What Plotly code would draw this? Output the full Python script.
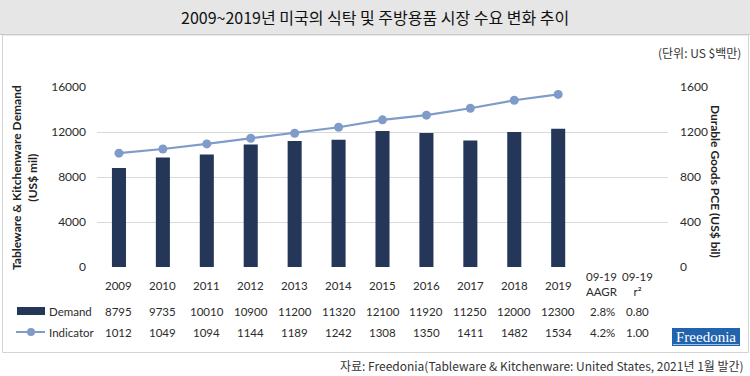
import plotly.graph_objects as go

years = [2009, 2010, 2011, 2012, 2013, 2014, 2015, 2016, 2017, 2018, 2019]
demand = [8795, 9735, 10010, 10900, 11200, 11320, 12100, 11920, 11250, 12000, 12300]
indicator = [1012, 1049, 1094, 1144, 1189, 1242, 1308, 1350, 1411, 1482, 1534]
stat_headers = ["09-19<br>AAGR", "09-19<br>r²"]
demand_stats = ["2.8%", "0.80"]
indicator_stats = ["4.2%", "1.00"]
left_ticks = [0, 4000, 8000, 12000, 16000]
right_ticks = [0, 400, 800, 1200, 1600]

title = "2009~2019년 미국의 식탁 및 주방용품 시장 수요 변화 추이"
unit = "(단위: US $백만)"
source = "자료: Freedonia(Tableware & Kitchenware: United States, 2021년 1월 발간)"

BAR = "#253759"
LINE = "#7f9bc9"
GRID = "#d9d9d9"
TXT = "#2b2b2b"
FONT = "Lato, sans-serif"
KFONT = "'Noto Sans CJK KR', sans-serif"
FS = 11.5

W, H = 750, 376
L, R = 97, 668
TOP, BOT = 87, 267


def px(x):
    return (x - L) / (R - L)


def py(y):
    return (BOT - y) / (BOT - TOP)


fig = go.Figure()
fig.add_trace(go.Bar(x=years, y=demand, marker=dict(color=BAR, line=dict(width=0)),
                     width=0.32, name="Demand", yaxis="y"))
fig.add_trace(go.Scatter(x=years, y=indicator, mode="lines+markers", name="Indicator",
                         line=dict(color=LINE, width=2.2),
                         marker=dict(color=LINE, size=9), yaxis="y2"))

stat_x = [years[-1] + 1.0, years[-1] + 1.8]

ann = []
for yr in years:
    ann.append(dict(x=yr, y=py(285), xref="x", yref="paper", text=str(yr), showarrow=False,
                    font=dict(family=FONT, size=FS, color=TXT), yanchor="middle"))
for sx, h in zip(stat_x, stat_headers):
    ann.append(dict(x=sx, y=py(284), xref="x", yref="paper", text=h, showarrow=False,
                    font=dict(family=FONT, size=FS, color=TXT), yanchor="middle"))
for yr, d, i in zip(years, demand, indicator):
    ann.append(dict(x=yr, y=py(311), xref="x", yref="paper", text=str(d), showarrow=False,
                    font=dict(family=FONT, size=FS, color=TXT), yanchor="middle"))
    ann.append(dict(x=yr, y=py(332), xref="x", yref="paper", text=str(i), showarrow=False,
                    font=dict(family=FONT, size=FS, color=TXT), yanchor="middle"))
for sx, d, i in zip(stat_x, demand_stats, indicator_stats):
    ann.append(dict(x=sx, y=py(311), xref="x", yref="paper", text=d, showarrow=False,
                    font=dict(family=FONT, size=FS, color=TXT), yanchor="middle"))
    ann.append(dict(x=sx, y=py(332), xref="x", yref="paper", text=i, showarrow=False,
                    font=dict(family=FONT, size=FS, color=TXT), yanchor="middle"))
ann.append(dict(x=px(47), y=py(311), xref="paper", yref="paper", text="Demand", showarrow=False,
                xanchor="left", yanchor="middle", font=dict(family=FONT, size=FS, color=TXT)))
ann.append(dict(x=px(47), y=py(332), xref="paper", yref="paper", text="Indicator", showarrow=False,
                xanchor="left", yanchor="middle", font=dict(family=FONT, size=FS, color=TXT)))
ann.append(dict(x=px(24), y=py(178), xref="paper", yref="paper",
                text="<b>Tableware & Kitchenware Demand<br>(US$ mil)</b>", showarrow=False,
                textangle=-90, font=dict(family=FONT, size=12, color="#222"),
                xanchor="center", yanchor="middle"))
ann.append(dict(x=px(716), y=py(182), xref="paper", yref="paper",
                text="<b>Durable Goods PCE (US$ bil)</b>", showarrow=False,
                textangle=90, font=dict(family=FONT, size=12, color="#222"),
                xanchor="center", yanchor="middle"))
ann.append(dict(x=px(375), y=py(17), xref="paper", yref="paper", text=title, showarrow=False,
                xanchor="center", yanchor="middle", font=dict(family=KFONT, size=16, color="#111")))
ann.append(dict(x=px(743), y=py(52), xref="paper", yref="paper", text=unit, showarrow=False,
                xanchor="right", yanchor="middle", font=dict(family=KFONT, size=12, color="#333")))
ann.append(dict(x=px(746), y=py(365), xref="paper", yref="paper", text=source, showarrow=False,
                xanchor="right", yanchor="middle", font=dict(family=KFONT, size=12, color="#333")))
ann.append(dict(x=px(706), y=py(337), xref="paper", yref="paper", text="Freedonia", showarrow=False,
                xanchor="center", yanchor="middle",
                font=dict(family="'Liberation Serif', serif", size=15, color="white")))

shapes = [
    dict(type="rect", xref="paper", yref="paper", x0=px(0), x1=px(750), y0=py(0), y1=py(34),
         fillcolor="#e6e6e6", line=dict(width=0), layer="below"),
    dict(type="line", xref="paper", yref="paper", x0=px(0), x1=px(750), y0=py(34.5), y1=py(34.5),
         line=dict(color="#c4c4c4", width=1)),
    dict(type="rect", xref="paper", yref="paper", x0=px(2.5), x1=px(748.5), y0=py(35), y1=py(352.5),
         fillcolor="rgba(0,0,0,0)", line=dict(color="#d3d3d3", width=1)),
    dict(type="rect", xref="paper", yref="paper", x0=px(17), x1=px(45), y0=py(307), y1=py(315),
         fillcolor=BAR, line=dict(width=0)),
    dict(type="line", xref="paper", yref="paper", x0=px(16), x1=px(45), y0=py(332), y1=py(332),
         line=dict(color=LINE, width=2)),
    dict(type="circle", xref="paper", yref="paper", x0=px(27), x1=px(35), y0=py(328), y1=py(336),
         fillcolor=LINE, line=dict(width=0)),
    dict(type="rect", xref="paper", yref="paper", x0=px(672), x1=px(740), y0=py(328), y1=py(346),
         fillcolor="#2263ad", line=dict(width=0)),
    dict(type="line", xref="paper", yref="paper", x0=px(673), x1=px(739), y0=py(344.5), y1=py(344.5),
         line=dict(color="#9fc0e6", width=1)),
]

fig.update_layout(
    width=W, height=H,
    margin=dict(l=L, r=W - R, t=TOP, b=H - BOT, pad=0),
    paper_bgcolor="white", plot_bgcolor="white",
    showlegend=False,
    xaxis=dict(range=[years[0] - 0.5, years[-1] + 2.5], showticklabels=False, showgrid=False,
               zeroline=False, showline=False, ticks=""),
    yaxis=dict(range=[0, 16000], tickvals=left_ticks, tickformat="d", showgrid=True,
               gridcolor=GRID, gridwidth=1.3,
               zeroline=False, showline=False, ticks="", ticklabelstandoff=10,
               tickfont=dict(family=FONT, size=12, color=TXT)),
    yaxis2=dict(range=[0, 1600], tickvals=right_ticks, tickformat="d", overlaying="y", side="right",
                showgrid=False, zeroline=False, showline=False, ticks="", ticklabelstandoff=11,
                tickfont=dict(family=FONT, size=12, color=TXT)),
    annotations=ann,
    shapes=shapes,
)

fig.write_html("out.html", post_script="document.body.style.margin='0';",
               config={"displayModeBar": False})
